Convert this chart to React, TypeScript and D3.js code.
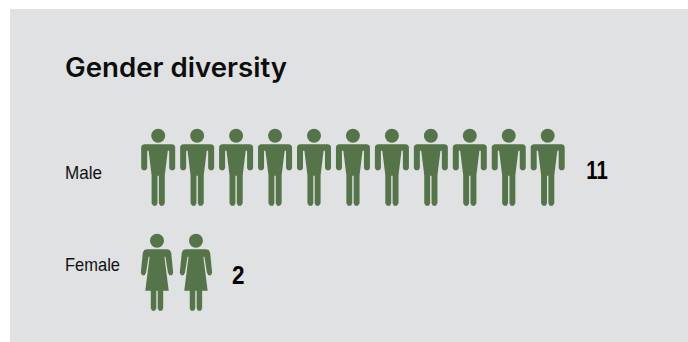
import React from "react";
import * as d3 from "d3";

const categories = ["Male", "Female"];
const counts = [11, 2];
const chartTitle = "Gender diversity";

const W = 688;
const H = 342;
const GREEN = "#56744a";
const SANS = "'Liberation Sans', Arial, sans-serif";

// Shared horizontal scale: icon slot index to centre x.
const slotX = d3.scaleLinear().domain([0, 10]).range([158.2, 547.7]);
// Row scale: category to the y of the top of the head.
const rowY = d3.scalePoint<string>().domain(categories).range([128.7, 233.7]);

const line = d3.line();

// Figure outlines relative to centre x, top of head at y = 0.
const maleBody: [number, number][] = [
  [-14, 15.6], [14, 15.6], [16, 16.2], [17, 18], [17, 39.5], [15.5, 41.5], [12.5, 41.5], [11, 39.5],
  [11, 22], [9.6, 22], [6.6, 46.5], [6.6, 74.5], [5, 77], [2, 77], [0.7, 74.5], [0.7, 47],
  [-0.7, 47], [-0.7, 74.5], [-2, 77], [-5, 77], [-6.6, 74.5], [-6.6, 46.5], [-9.6, 22], [-11, 22],
  [-11, 39.5], [-12.5, 41.5], [-15.5, 41.5], [-17, 39.5], [-17, 18], [-16, 16.2],
];

const femaleBody: [number, number][] = [
  [-10, 15.6], [10, 15.6], [12.8, 16.4], [14.2, 19], [16.2, 39], [15, 41.5], [12.4, 41.5], [11, 39],
  [8.4, 23], [7.4, 23], [11.7, 57], [6.2, 57], [6.2, 74.5], [5, 77], [2, 77], [0.7, 74.5], [0.7, 57],
  [-0.7, 57], [-0.7, 74.5], [-2, 77], [-5, 77], [-6.2, 74.5], [-6.2, 57], [-11.7, 57], [-7.4, 23], [-8.4, 23],
  [-11, 39], [-12.4, 41.5], [-15, 41.5], [-16.2, 39], [-14.2, 19], [-12.8, 16.4],
];

function Person({ x, y, shape }: { x: number; y: number; shape: [number, number][] }) {
  return (
    <g transform={`translate(${x},${y})`} fill={GREEN}>
      <circle cx={0} cy={7} r={7} />
      <path d={line(shape) + "Z"} />
    </g>
  );
}

export default function App() {
  return (
    <svg
      width={W}
      height={H}
      style={{ position: "absolute", left: 0, top: 0, background: "#ffffff" }}
    >
      <rect x={10} y={9} width={W - 10} height={H - 9} fill="#e0e1e3" />
      <text
        x={65}
        y={77}
        fontFamily="Inter, 'Liberation Sans', sans-serif"
        fontWeight={600}
        fontSize={26.5}
        textLength={222}
        lengthAdjust="spacingAndGlyphs"
        fill="#0d0d0d"
      >
        {chartTitle}
      </text>
      {categories.map((cat, row) => {
        const top = rowY(cat)!;
        const n = counts[row];
        const isMale = cat === "Male";
        const shape = isMale ? maleBody : femaleBody;
        const offset = isMale ? 0 : -1.2;
        return (
          <g key={cat}>
            <text
              x={65}
              y={isMale ? 179 : 271}
              fontFamily={SANS}
              fontSize={18.5}
              textLength={isMale ? 37 : 55}
              lengthAdjust="spacingAndGlyphs"
              fill="#111111"
            >
              {cat}
            </text>
            {d3.range(n).map((i) => (
              <Person key={i} x={slotX(i) + offset} y={top} shape={shape} />
            ))}
            <text
              x={slotX(n - 1) + (isMale ? 38.6 : 34.8)}
              y={isMale ? 179 : 284.3}
              fontFamily={SANS}
              fontWeight={700}
              fontSize={25}
              textLength={isMale ? 21.5 : 12.5}
              lengthAdjust="spacingAndGlyphs"
              fill="#000000"
            >
              {n}
            </text>
          </g>
        );
      })}
    </svg>
  );
}
